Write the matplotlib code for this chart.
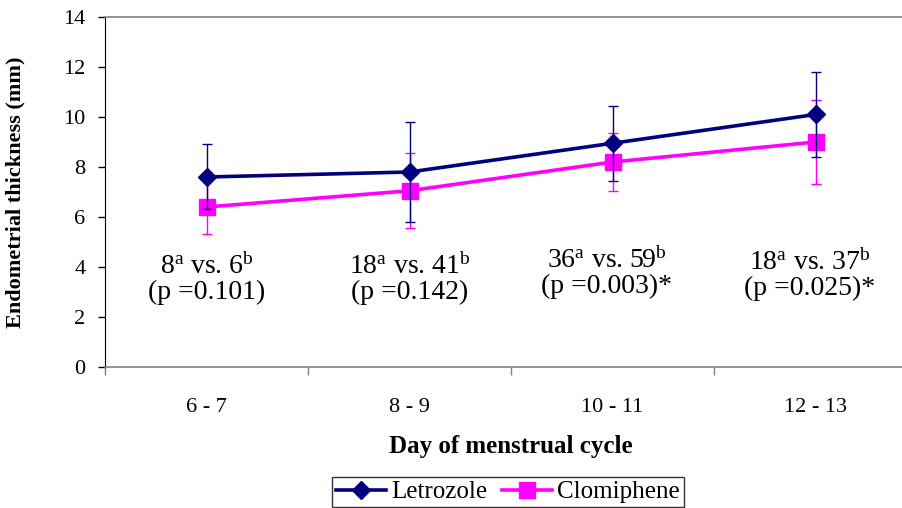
import matplotlib
matplotlib.use("Agg")
import matplotlib.pyplot as plt
import numpy as np

# Data
days = ["6 - 7", "8 - 9", "10 - 11", "12 - 13"]
letrozole_mean = [7.6, 7.8, 8.95, 10.1]
letrozole_sd = [1.3, 2.0, 1.5, 1.7]
clomiphene_mean = [6.4, 7.05, 8.2, 9.0]
clomiphene_sd = [1.1, 1.5, 1.15, 1.7]

# Annotation values per column
n_letrozole = [8, 18, 36, 18]
n_clomiphene = [6, 41, 59, 37]
p_values = ["0.101", "0.142", "0.003", "0.025"]
significant = [False, False, True, True]
text_y = [4.0, 4.0, 4.24, 4.16]

plt.rcParams["font.family"] = ["Liberation Serif", "DejaVu Serif"]
plt.rcParams["mathtext.fontset"] = "custom"
plt.rcParams["mathtext.rm"] = "Liberation Serif"
plt.rcParams["mathtext.it"] = "Liberation Serif:italic"
plt.rcParams["mathtext.bf"] = "Liberation Serif:bold"

fig = plt.figure(figsize=(9.02, 5.08), dpi=100)
ax = fig.add_axes([105 / 902, 141 / 508, 812 / 902, 350 / 508])

x = np.arange(len(days))

let = ax.errorbar(x, letrozole_mean, yerr=letrozole_sd, color="#000080", lw=2.6,
                  marker="D", markersize=9, ecolor="#000080", elinewidth=1,
                  capsize=3.5, capthick=1, zorder=3)
clo = ax.errorbar(x, clomiphene_mean, yerr=clomiphene_sd, color="#FF00FF", lw=2.6,
                  marker="s", markersize=11, ecolor="#FF00FF", elinewidth=1,
                  capsize=3.5, capthick=1, zorder=2)

# Annotations: sample sizes and p values
for i in range(len(days)):
    dx = -0.03 if significant[i] else 0
    ax.text(x[i] + dx, text_y[i],
            "%d$^{\\mathrm{a}}$ vs. %d$^{\\mathrm{b}}$" % (n_letrozole[i], n_clomiphene[i]),
            ha="center", va="center", fontsize=20)
    star = "*" if significant[i] else ""
    ax.text(x[i] + dx, text_y[i] - 1.0, "(p =%s)%s" % (p_values[i], star),
            ha="center", va="center", fontsize=20)

ax.set_xlim(-0.5, 3.5)
ax.set_ylim(0, 14)
ax.set_yticks(np.arange(0, 15, 2))
ax.set_xticks(x)
ax.set_xticklabels(days)
ax.set_xticks(np.arange(-0.5, 4, 1), minor=True)
ax.tick_params(axis="x", which="major", length=0, pad=22, labelsize=16)
ax.tick_params(axis="x", which="minor", length=6, width=1, color="#808080")
ax.tick_params(axis="y", length=5, width=1, pad=9, labelsize=16)

ax.spines["left"].set_color("black")
for side in ["top", "bottom", "right"]:
    ax.spines[side].set_color("#808080")
    ax.spines[side].set_linewidth(1.2)

ax.set_ylabel("Endometrial thickness (mm)", fontsize=16, fontweight="bold")
ax.yaxis.set_label_coords(-80 / 812, 0.5)
ax.set_xlabel("Day of menstrual cycle", fontsize=18, fontweight="bold")
ax.xaxis.set_label_coords(406 / 812, -68 / 350)

leg = fig.legend([let[0], clo[0]], ["Letrozole", "Clomiphene"],
                 loc="upper center", bbox_to_anchor=(508 / 902, 31 / 508),
                 ncol=2, fontsize=18, frameon=True, fancybox=False,
                 edgecolor="black", handlelength=2.0, handletextpad=0.2,
                 columnspacing=0.6, borderpad=0.15, borderaxespad=0)
leg.get_frame().set_linewidth(1)

fig.savefig("out.png", dpi=100)
